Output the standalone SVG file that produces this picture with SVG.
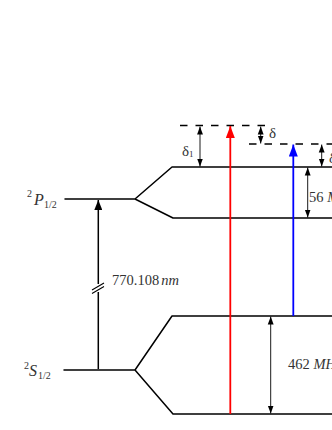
<svg xmlns="http://www.w3.org/2000/svg" width="332" height="430" viewBox="0 0 332 430">
<style>
.lvl{fill:none;stroke:#000;stroke-width:1.5;stroke-linejoin:round;stroke-linecap:round}
.dash{fill:none;stroke:#000;stroke-width:1.5;stroke-dasharray:7.5 8}
.dim{fill:none;stroke:#000;stroke-width:0.9}
.t{font-family:"Liberation Serif","DejaVu Serif",serif;fill:#333}
.i{font-style:italic}
</style>
<defs>
<marker id="sa" markerUnits="userSpaceOnUse" markerWidth="8" markerHeight="8" refX="6" refY="3" orient="auto-start-reverse" viewBox="0 0 6 6">
<path d="M0,0.8 L6,3 L0,5.2 Z" fill="#000"/>
</marker>
<marker id="ka" markerUnits="userSpaceOnUse" markerWidth="10" markerHeight="8" refX="10" refY="4" orient="auto" viewBox="0 0 10 8">
<path d="M0,0 L10,4 L0,8 Z" fill="#000"/>
</marker>
<marker id="ra" markerUnits="userSpaceOnUse" markerWidth="12" markerHeight="9" refX="12" refY="4.5" orient="auto" viewBox="0 0 12 9">
<path d="M0,0 L12,4.5 L0,9 Z" fill="#ff0000"/>
</marker>
<marker id="ba" markerUnits="userSpaceOnUse" markerWidth="12" markerHeight="9" refX="12" refY="4.5" orient="auto" viewBox="0 0 12 9">
<path d="M0,0 L12,4.5 L0,9 Z" fill="#0000ff"/>
</marker>
</defs>
<g id="P-level">
<path class="lvl" d="M65,199 L135,199 M332,167 L172,167 L135,199 L173,218 L332,218"/>
<text class="t" x="27" y="197" font-size="10">2</text>
<text class="t i" x="34" y="205" font-size="16">P</text>
<text class="t" x="44" y="208" font-size="10">1/2</text>
</g>
<g id="S-level">
<path class="lvl" d="M64,370 L135,370 M332,316 L172,316 L135,370 L173,414 L332,414"/>
<text class="t" x="24" y="369" font-size="10">2</text>
<text class="t i" x="29" y="376" font-size="16">S</text>
<text class="t" x="38" y="379" font-size="10">1/2</text>
</g>
<g id="virtual-levels">
<path class="dash" d="M180,125.5 L266,125.5"/>
<path class="dash" d="M249,144 L332,144"/>
</g>
<g id="connectors">
<path d="M98.3,369 L98.3,292 M98.3,284 L98.3,200" fill="none" stroke="#000" stroke-width="1.5" marker-end="url(#ka)"/>
<path d="M92,290 L104,283 M92,293.5 L104,286.5" fill="none" stroke="#000" stroke-width="1.1"/>
<path d="M230.3,414 L230.3,126" fill="none" stroke="#ff0000" stroke-width="1.8" marker-end="url(#ra)"/>
<path d="M293.3,316 L293.3,144.5" fill="none" stroke="#0000ff" stroke-width="1.8" marker-end="url(#ba)"/>
<path class="dim" d="M200,126.5 L200,166.5" marker-start="url(#sa)" marker-end="url(#sa)"/>
<path class="dim" d="M260.7,126.5 L260.7,143.5" marker-start="url(#sa)" marker-end="url(#sa)"/>
<path class="dim" d="M321.7,144.5 L321.7,166.5" marker-start="url(#sa)" marker-end="url(#sa)"/>
<path class="dim" d="M307.7,167.5 L307.7,217.5" marker-start="url(#sa)" marker-end="url(#sa)"/>
<path class="dim" d="M270.7,316.5 L270.7,413.5" marker-start="url(#sa)" marker-end="url(#sa)"/>
</g>
<g id="labels">
<text class="t" x="112" y="285" font-size="14.5">770.108<tspan class="i" dx="2">nm</tspan></text>
<text class="t" x="182" y="156" font-size="15">δ<tspan font-size="9" dy="1">1</tspan></text>
<text class="t" x="269" y="138" font-size="15">δ</text>
<text class="t" x="329" y="163" font-size="15">δ</text>
<text class="t" x="309" y="202" font-size="14.5">56 <tspan class="i">MHz</tspan></text>
<text class="t" x="288" y="369" font-size="14.5">462 <tspan class="i">MHz</tspan></text>
</g>
</svg>
